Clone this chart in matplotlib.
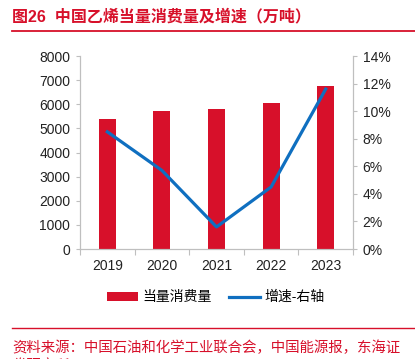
import matplotlib
matplotlib.use('Agg')
import matplotlib.pyplot as plt
from matplotlib.lines import Line2D
from matplotlib.patches import Patch
from matplotlib.ticker import FuncFormatter

plt.rcParams['font.family'] = ['Liberation Sans', 'Noto Sans CJK SC']

# Data
years = ['2019', '2020', '2021', '2022', '2023']
consumption = [5400, 5720, 5805, 6065, 6770]      # 万吨
growth = [8.5, 5.7, 1.6, 4.5, 11.6]               # %

red = '#D7102A'
blue = '#0F6FC0'
grey = '#BFBFBF'

fig = plt.figure(figsize=(4.15, 3.59), dpi=100)
ax = fig.add_axes([0.1928, 0.3064, 0.6578, 0.5376])
ax2 = ax.twinx()

x = list(range(len(years)))
ax.bar(x, consumption, width=0.31, color=red, zorder=2)
ax2.plot(x, growth, color=blue, linewidth=2.3, zorder=3)

ax.set_xlim(-0.5, 4.5)
ax.set_ylim(0, 8000)
ax.set_yticks(range(0, 8001, 1000))
ax2.set_ylim(0, 14)
ax2.set_yticks(range(0, 15, 2))
ax2.yaxis.set_major_formatter(FuncFormatter(lambda v, p: f'{int(v)}%'))

ax.set_xticks(x)
ax.set_xticklabels(years)
ax.set_xticks([i + 0.5 for i in range(-1, 5)], minor=True)
ax.tick_params(axis='x', which='major', length=0, pad=7, labelsize=10, labelcolor='#222222')
ax.tick_params(axis='x', which='minor', length=4, width=0.8, color=grey, direction='out')
ax.tick_params(axis='y', length=3, width=0.8, color=grey, labelsize=10, labelcolor='#222222', pad=4)
ax2.tick_params(axis='y', length=3, width=0.8, color=grey, labelsize=10, labelcolor='#222222', pad=4)

for a in (ax, ax2):
    a.spines['top'].set_visible(False)
    for s in ('left', 'right', 'bottom'):
        a.spines[s].set_color(grey)
        a.spines[s].set_linewidth(0.8)

# Title and rules
fig.text(0.029, 0.953, '图26  中国乙烯当量消费量及增速（万吨）', color=red,
         fontsize=11.5, fontweight='bold', va='center', ha='left')
fig.add_artist(Line2D([0.029, 1.0], [0.913, 0.913], color=red, linewidth=1.3,
                      transform=fig.transFigure))
fig.add_artist(Line2D([0.029, 1.0], [0.086, 0.086], color=red, linewidth=1.0,
                      transform=fig.transFigure))

# Legend
handles = [Patch(facecolor=red, edgecolor='none'),
           Line2D([], [], color=blue, linewidth=2.3)]
fig.legend(handles, ['当量消费量', '增速-右轴'], loc='center', bbox_to_anchor=(0.52, 0.172),
           ncol=2, frameon=False, fontsize=10, handlelength=2.2, handleheight=0.55,
           handletextpad=0.3, columnspacing=1.3)

# Source note (second line clipped by figure edge as in the reference)
fig.text(0.029, 0.052, '资料来源：中国石油和化学工业联合会，中国能源报，东海证\n券研究所',
         color=red, fontsize=10.4, va='top', ha='left', linespacing=1.35)

fig.savefig('out.png', dpi=100)
